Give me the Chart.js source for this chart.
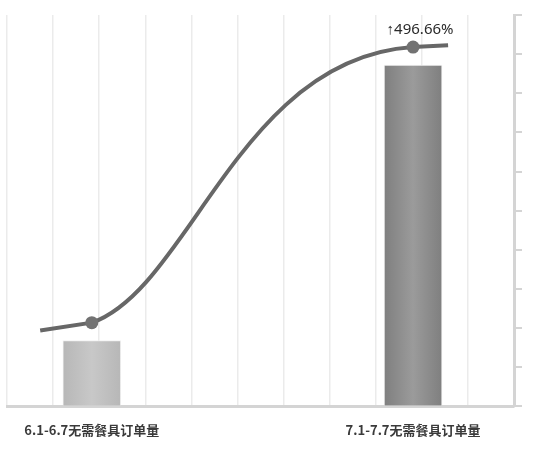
<!DOCTYPE html>
<html>
<head>
<meta charset="utf-8">
<script src="https://cdn.jsdelivr.net/npm/chart.js@4/dist/chart.umd.min.js"></script>
<style>
  html, body { margin: 0; padding: 0; background: #ffffff; }
  #wrap { width: 536px; height: 454px; }
</style>
</head>
<body>
<div id="wrap"><canvas id="chart"></canvas></div>
<script>
// ========== DATA ==========
const categories = ["6.1-6.7无需餐具订单量", "7.1-7.7无需餐具订单量"];
const categoryX = [1.84, 8.81];          // where each category sits on the x scale (0..11)
const orderValues = [1.68, 8.72];        // bar heights (y scale 0..10)
const trendX = [0.72, 1.84, 8.81, 9.57]; // the curve runs a little past both bars
const trendValues = [1.94, 2.14, 9.18, 9.23];
const changeLabel = "↑496.66%";

// ========== HELPERS ==========
const barShades = [
  ["#b7b7b7", "#c8c8c8", "#b7b7b7"],
  ["#7f7f7f", "#9b9b9b", "#7f7f7f"],
];

const barFill = (ctx) => {
  const chart = ctx.chart;
  const shades = barShades[ctx.dataIndex] || barShades[0];
  const xs = chart.scales && chart.scales.x;
  if (!xs || ctx.dataIndex == null) {
    return shades[1];
  }
  const cx = xs.getPixelForValue(categoryX[ctx.dataIndex]);
  if (!Number.isFinite(cx)) {
    return shades[1];
  }
  const g = chart.ctx.createLinearGradient(cx - 29, 0, cx + 29, 0);
  g.addColorStop(0, shades[0]);
  g.addColorStop(0.5, shades[1]);
  g.addColorStop(1, shades[2]);
  return g;
};

// bend the middle segment into a soft S, tails stay straight
const sCurvePlugin = {
  id: "sCurve",
  beforeDatasetDraw(chart, args) {
    if (args.index !== 0) {
      return;
    }
    const meta = chart.getDatasetMeta(0);
    const line = meta.dataset;
    line.updateControlPoints(chart.chartArea, "x");
    const p = meta.data;
    const straight = (a, b) => {
      a.cp2x = a.x + (b.x - a.x) / 3;
      a.cp2y = a.y + (b.y - a.y) / 3;
      b.cp1x = b.x - (b.x - a.x) / 3;
      b.cp1y = b.y - (b.y - a.y) / 3;
    };
    straight(p[0], p[1]);
    straight(p[2], p[3]);
    const dx = p[2].x - p[1].x;
    const dy = p[2].y - p[1].y;
    p[1].cp2x = p[1].x + dx * 0.305;
    p[1].cp2y = p[1].y + dy * 0.124;
    p[2].cp1x = p[2].x - dx * 0.54;
    p[2].cp1y = p[2].y - dy * 0.04;
  },
};

const changeLabelPlugin = {
  id: "changeLabel",
  afterDatasetsDraw(chart) {
    const pt = chart.getDatasetMeta(0).data[2];
    if (!pt) {
      return;
    }
    const c = chart.ctx;
    c.save();
    c.font = "15px 'Noto Sans', sans-serif";
    c.fillStyle = "#2a2a2a";
    c.textAlign = "center";
    c.textBaseline = "middle";
    c.fillText(changeLabel, pt.x + 7, pt.y - 17);
    c.restore();
  },
};

// ========== CHART ==========
const axisGray = "#d4d4d4";

new Chart(document.getElementById("chart"), {
  data: {
    datasets: [
      {
        type: "line",
        order: 0,
        data: trendX.map((x, i) => ({ x, y: trendValues[i] })),
        borderColor: "#676767",
        borderWidth: 4,
        tension: 0.4,
        fill: false,
        pointRadius: (ctx) => (categoryX.includes(trendX[ctx.dataIndex]) ? 6.5 : 0),
        pointBackgroundColor: "#727272",
        pointBorderWidth: 0,
      },
      {
        type: "bar",
        order: 1,
        data: categoryX.map((x, i) => ({ x, y: orderValues[i] })),
        backgroundColor: barFill,
        borderColor: "rgba(240,240,240,0.9)",
        borderWidth: 1,
        barThickness: 58,
      },
    ],
  },
  options: {
    responsive: true,
    maintainAspectRatio: false,
    animation: false,
    events: [],
    layout: { autoPadding: false, padding: { left: 7, right: 14, top: 15, bottom: 0 } },
    plugins: { legend: { display: false }, tooltip: { enabled: false } },
    scales: {
      x: {
        type: "linear",
        offset: false,
        min: 0,
        max: 11,
        ticks: { display: false, stepSize: 1, padding: 0 },
        grid: { offset: false, color: "#ebebeb", lineWidth: 1.5, drawTicks: false },
        border: { display: true, color: axisGray, width: 3 },
      },
      xNames: {
        type: "linear",
        position: "bottom",
        offset: false,
        min: 0,
        max: 11,
        afterBuildTicks: (scale) => {
          scale.ticks = categoryX.map((v) => ({ value: v }));
        },
        ticks: {
          padding: 16,
          color: "#3a3a3a",
          font: { family: "'Noto Sans CJK SC', sans-serif", size: 13, weight: "bold" },
          callback: (v) => {
            const i = categoryX.indexOf(v);
            return i >= 0 ? categories[i] : "";
          },
          maxRotation: 0,
          autoSkip: false,
        },
        grid: { display: false, drawTicks: false },
        border: { display: false },
      },
      y: {
        position: "right",
        min: 0,
        max: 10,
        ticks: { display: false, stepSize: 1 },
        grid: {
          drawOnChartArea: false,
          drawTicks: true,
          tickLength: 8,
          color: axisGray,
          lineWidth: 2,
        },
        border: { display: true, color: axisGray, width: 3 },
      },
    },
  },
  plugins: [sCurvePlugin, changeLabelPlugin],
});
</script>
</body>
</html>
